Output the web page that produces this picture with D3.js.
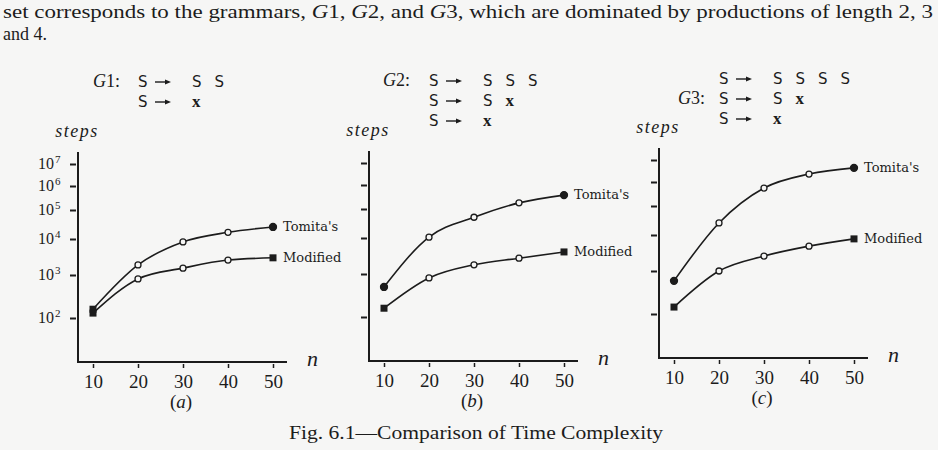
<!DOCTYPE html>
<html>
<head>
<meta charset="utf-8">
<script src="https://cdn.jsdelivr.net/npm/d3@7"></script>
<style>
  body { margin: 0; background: #f6f6f5; }
  svg { display: block; }
  text { fill: #1c1c1c; }
</style>
</head>
<body>
<div id="chart"></div>
<script>
// data (steps vs n, log axis)
var nValues = [10, 20, 30, 40, 50];
var yTickValues = [1e2, 1e3, 1e4, 1e5, 1e6, 1e7];
var yTickExps = ["2", "3", "4", "5", "6", "7"];
var xTickLabels = ["10", "20", "30", "40", "50"];

var tomitaA = [160, 1900, 8300, 17000, 26000];
var modifiedA = [130, 810, 1550, 2600, 3000];
var tomitaB = [500, 10700, 52000, 180000, 380000];
var modifiedB = [160, 810, 1800, 2750, 4100];
var tomitaC = [590, 26000, 560000, 2300000, 4400000];
var modifiedC = [145, 1000, 2600, 4900, 7800];

var seriesNames = ["Tomita's", "Modified"];
var panelLetters = ["a", "b", "c"];
var grammarNums = ["1", "2", "3"];
var grammarRules = [
  [["S", "S", "S"], ["S", "x"]],
  [["S", "S", "S", "S"], ["S", "S", "x"], ["S", "x"]],
  [["S", "S", "S", "S", "S"], ["S", "S", "x"], ["S", "x"]]
];

var bodyLine1 = ["set corresponds to the grammars, ", "G", "1, ", "G", "2, and ", "G", "3, which are dominated by productions of length 2, 3"];
var bodyLine2 = "and 4.";
var caption = "Fig. 6.1\u2014Comparison of Time Complexity";

// layout of the three panels
var panels = [
  {x0: 78, y0: 362, labels: true, gx: 15, gLine: 0, gy: 81, tomita: tomitaA, modified: modifiedA},
  {x0: 369, y0: 361, labels: false, gx: 14, gLine: 0, gy: 80, tomita: tomitaB, modified: modifiedB},
  {x0: 659, y0: 358, labels: false, gx: 19, gLine: 1, gy: 78, tomita: tomitaC, modified: modifiedC}
];

var svg = d3.select("#chart")
  .append("svg")
  .attr("width", 938)
  .attr("height", 450);

// paragraph text on top
var t1 = svg.append("text")
  .attr("x", 3).attr("y", 18)
  .attr("textLength", 930)
  .attr("lengthAdjust", "spacingAndGlyphs")
  .style("font-family", "Liberation Serif")
  .style("font-size", "18px");
bodyLine1.forEach(function(s) {
  t1.append("tspan").text(s).style("font-style", s == "G" ? "italic" : "normal");
});
svg.append("text")
  .attr("x", 3).attr("y", 40)
  .attr("textLength", 44)
  .attr("lengthAdjust", "spacingAndGlyphs")
  .style("font-family", "Liberation Serif")
  .style("font-size", "18px")
  .text(bodyLine2);

// x and y scales (relative to each panel's origin)
var x = d3.scaleLinear()
  .domain([10, 50])
  .range([15, 195]);

// the printed log axis isn't evenly spaced, so use a piecewise log scale
var y = d3.scaleLog()
  .domain(yTickValues)
  .range([-44, -87, -123, -152, -176, -198]);

var line = d3.line()
  .x(function(d) { return x(d.n); })
  .y(function(d) { return y(d.v); })
  .curve(d3.curveMonotoneX);

panels.forEach(function(p, i) {
  var g = svg.append("g")
    .attr("transform", "translate(" + p.x0 + "," + p.y0 + ")");

  // grammar
  var rules = grammarRules[i];
  var gl = g.append("text")
    .attr("x", p.gx)
    .attr("y", p.gy - p.y0 + p.gLine * 20 + 6)
    .style("font-family", "Liberation Serif")
    .style("font-size", "18px");
  gl.append("tspan").style("font-style", "italic").text("G");
  gl.append("tspan").text(grammarNums[i] + ":");

  rules.forEach(function(r, j) {
    var ry = p.gy - p.y0 + j * 20 + 6;
    var sx = 60;
    g.append("text")
      .attr("x", sx).attr("y", ry)
      .style("font-family", "DejaVu Sans")
      .style("font-size", "15px")
      .text(r[0]);
    // arrow
    g.append("line")
      .attr("x1", sx + 17).attr("x2", sx + 30)
      .attr("y1", ry - 5).attr("y2", ry - 5)
      .attr("stroke", "#1c1c1c").attr("stroke-width", 1.4);
    g.append("path")
      .attr("d", "M" + (sx + 33) + "," + (ry - 5) + "l-6,-2.5v5z")
      .attr("fill", "#1c1c1c");
    r.slice(1).forEach(function(tok, k) {
      g.append("text")
        .attr("x", sx + 54 + k * 22.5).attr("y", ry)
        .style("font-family", tok == "x" ? "Liberation Serif" : "DejaVu Sans")
        .style("font-weight", tok == "x" ? "bold" : "normal")
        .style("font-size", tok == "x" ? "17px" : "15px")
        .text(tok);
    });
  });

  // steps label
  g.append("text")
    .attr("x", -1).attr("y", -225)
    .attr("text-anchor", "middle")
    .style("font-family", "Liberation Serif")
    .style("font-size", "18px")
    .style("font-style", "italic")
    .style("letter-spacing", "1.5px")
    .text("steps");

  // axes lines
  g.append("line")
    .attr("x1", 0).attr("y1", 1).attr("x2", 0).attr("y2", -210)
    .attr("stroke", "#1c1c1c").attr("stroke-width", 2);
  g.append("line")
    .attr("x1", -1).attr("y1", 0).attr("x2", 209).attr("y2", 0)
    .attr("stroke", "#1c1c1c").attr("stroke-width", 2);

  // y ticks (short dashes just off the axis)
  var yAxis = g.append("g")
    .call(d3.axisLeft(y).tickValues(yTickValues).tickSize(8).tickFormat(""));
  yAxis.select(".domain").remove();
  yAxis.selectAll("line").attr("x1", -2).attr("stroke", "#1c1c1c").attr("stroke-width", 2);

  if (p.labels) {
    yTickValues.forEach(function(v, k) {
      g.append("text")
        .attr("x", -24).attr("y", y(v) + 5)
        .attr("text-anchor", "end")
        .style("font-family", "Liberation Serif")
        .style("font-size", "16px")
        .text("10");
      g.append("text")
        .attr("x", -23).attr("y", y(v) - 1)
        .style("font-family", "Liberation Serif")
        .style("font-size", "11px")
        .text(yTickExps[k]);
    });
  }

  // x ticks
  var xAxis = g.append("g")
    .call(d3.axisBottom(x).tickValues(nValues).tickSize(6).tickPadding(7)
      .tickFormat(function(d, k) { return xTickLabels[k]; }));
  xAxis.select(".domain").remove();
  xAxis.selectAll("line").attr("y1", 2).attr("stroke", "#1c1c1c").attr("stroke-width", 1.5);
  xAxis.selectAll("text")
    .style("font-family", "Liberation Serif")
    .style("font-size", "19px")
    .style("fill", "#1c1c1c");

  g.append("text")
    .attr("x", 229).attr("y", 4)
    .style("font-family", "Liberation Serif")
    .style("font-size", "22px")
    .style("font-style", "italic")
    .text("n");

  var pl = g.append("text")
    .attr("x", 103).attr("y", 46)
    .attr("text-anchor", "middle")
    .style("font-family", "Liberation Serif")
    .style("font-size", "19px");
  pl.append("tspan").text("(");
  pl.append("tspan").style("font-style", "italic").text(panelLetters[i]);
  pl.append("tspan").text(")");

  // the two series
  [p.tomita, p.modified].forEach(function(vals, s) {
    var pts = vals.map(function(v, k) { return {n: nValues[k], v: v}; });
    g.append("path")
      .datum(pts)
      .attr("fill", "none")
      .attr("stroke", "#1c1c1c")
      .attr("stroke-width", 1.6)
      .attr("d", line);

    pts.forEach(function(d, k) {
      var ends = (k == 0 || k == pts.length - 1);
      if (ends && (s == 1 || (i == 0 && k == 0))) {
        g.append("rect")
          .attr("x", x(d.n) - 3.5).attr("y", y(d.v) - 3.5)
          .attr("width", 7).attr("height", 7)
          .attr("fill", "#1c1c1c");
      } else {
        g.append("circle")
          .attr("cx", x(d.n)).attr("cy", y(d.v))
          .attr("r", ends ? 3.5 : 3)
          .attr("fill", ends ? "#1c1c1c" : "#f6f6f5")
          .attr("stroke", "#1c1c1c")
          .attr("stroke-width", 1.3);
      }
    });

    var last = pts[pts.length - 1];
    g.append("text")
      .attr("x", x(last.n) + 10).attr("y", y(last.v) + 4)
      .style("font-family", "DejaVu Serif")
      .style("font-size", "13px")
      .text(seriesNames[s]);
  });
});

// caption
svg.append("text")
  .attr("x", 289).attr("y", 439)
  .attr("textLength", 374)
  .attr("lengthAdjust", "spacingAndGlyphs")
  .style("font-family", "Liberation Serif")
  .style("font-size", "19px")
  .text(caption);
</script>
</body>
</html>
